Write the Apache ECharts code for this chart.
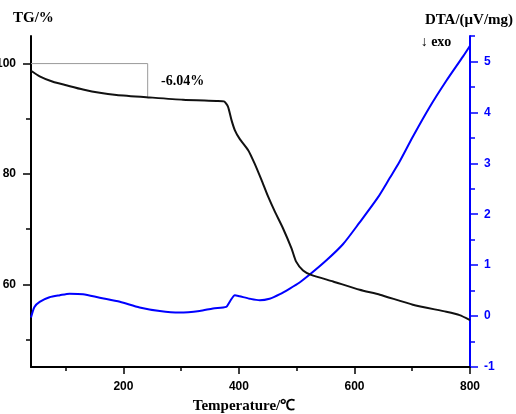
<!DOCTYPE html>
<html>
<head>
<meta charset="utf-8">
<script src="https://cdn.jsdelivr.net/npm/echarts@6/dist/echarts.min.js"></script>
<style>html,body{margin:0;padding:0;background:#fff;}#c{width:516px;height:414px;}</style>
</head>
<body>
<div id="c"></div>
<script>
// ---- data ----
var tgTemp  = [40, 55, 78, 101, 130, 159, 188, 245, 303, 361, 374, 381, 387, 393, 401, 416, 427, 439, 450, 462, 476, 491, 499, 511, 525, 563, 609, 644, 701, 759, 782, 800];
var tgValue = [98.7, 97.7, 96.7, 96.07, 95.3, 94.7, 94.32, 93.87, 93.45, 93.23, 93.15, 92.2, 89.8, 87.9, 86.4, 84.3, 81.9, 78.9, 76.0, 73.2, 70.2, 66.5, 64.1, 62.5, 61.7, 60.5, 59.0, 58.1, 56.3, 55.0, 54.4, 53.5];
var dtaTemp  = [40, 46, 55, 72, 90, 107, 130, 159, 194, 228, 263, 297, 332, 355, 378, 384, 393, 401, 419, 436, 453, 471, 488, 505, 522, 551, 580, 609, 640, 661, 678, 701, 730, 759, 788, 800];
var dtaValue = [-0.03, 0.18, 0.28, 0.37, 0.41, 0.44, 0.43, 0.36, 0.28, 0.17, 0.10, 0.07, 0.10, 0.15, 0.18, 0.28, 0.41, 0.39, 0.34, 0.31, 0.34, 0.43, 0.54, 0.66, 0.81, 1.09, 1.41, 1.84, 2.32, 2.71, 3.03, 3.52, 4.10, 4.62, 5.10, 5.31];
var bracketTemp  = [40, 242, 242];
var bracketValue = [100, 100, 93.9];
var xMajorTicks = [200, 400, 600, 800];
var xMinorTicks = [100, 300, 500, 700];
var tgMajorTicks = [60, 80, 100];
var tgMinorTicks = [50, 70, 90];
var dtaMajorTicks = [-1, 0, 1, 2, 3, 4, 5];
var dtaMinorTicks = [-0.5, 0.5, 1.5, 2.5, 3.5, 4.5, 5.5];
var lossLabel = '-6.04%';

function zip(a, b) { return a.map(function (v, i) { return [v, b[i]]; }); }

var blue = '#0000ff';
var tickFont = { fontFamily: 'Liberation Sans, Arial, sans-serif', fontWeight: 'bold', fontSize: 12 };
var serifBold = 'bold 15px "Liberation Serif", "Times New Roman", serif';

var chart = echarts.init(document.getElementById('c'), null, { renderer: 'canvas' });
chart.setOption({
  animation: false,
  backgroundColor: '#fff',
  grid: { left: 31, right: 46, top: 36, bottom: 47, containLabel: false, outerBoundsMode: 'none' },
  xAxis: [
    { type: 'value', min: 40, max: 800, position: 'bottom',
      axisLine: { show: true, onZero: false, lineStyle: { color: '#000', width: 2 } },
      axisTick: { show: true, inside: false, length: 7, customValues: xMajorTicks, lineStyle: { color: '#000', width: 1.5 } },
      axisLabel: Object.assign({ customValues: xMajorTicks, color: '#000', margin: 14 }, tickFont),
      splitLine: { show: false } },
    { type: 'value', min: 40, max: 800, position: 'bottom',
      axisLine: { show: false, onZero: false },
      axisTick: { show: true, length: 4, customValues: xMinorTicks, lineStyle: { color: '#000', width: 1.5 } },
      axisLabel: { show: false }, splitLine: { show: false } }
  ],
  yAxis: [
    { type: 'value', min: 45, max: 105, position: 'left',
      axisLine: { show: true, onZero: false, lineStyle: { color: '#000', width: 2 } },
      axisTick: { show: true, length: 8, customValues: tgMajorTicks, lineStyle: { color: '#000', width: 1.5 } },
      axisLabel: Object.assign({ customValues: tgMajorTicks, color: '#000', margin: 15 }, tickFont),
      splitLine: { show: false } },
    { type: 'value', min: 45, max: 105, position: 'left',
      axisLine: { show: false, onZero: false },
      axisTick: { show: true, length: 5, customValues: tgMinorTicks, lineStyle: { color: '#000', width: 1.5 } },
      axisLabel: { show: false }, splitLine: { show: false } },
    { type: 'value', min: -1, max: 5.5, position: 'right',
      axisLine: { show: true, onZero: false, lineStyle: { color: blue, width: 2 } },
      axisTick: { show: true, length: 8, customValues: dtaMajorTicks, lineStyle: { color: blue, width: 1.5 } },
      axisLabel: Object.assign({ customValues: dtaMajorTicks, color: blue, margin: 14 }, tickFont),
      splitLine: { show: false } },
    { type: 'value', min: -1, max: 5.5, position: 'right',
      axisLine: { show: false, onZero: false },
      axisTick: { show: true, length: 5, customValues: dtaMinorTicks, lineStyle: { color: blue, width: 1.5 } },
      axisLabel: { show: false }, splitLine: { show: false } }
  ],
  series: [
    { type: 'line', name: 'bracket', xAxisIndex: 0, yAxisIndex: 0, data: zip(bracketTemp, bracketValue),
      showSymbol: false, lineStyle: { color: '#9a9a9a', width: 1 }, z: 1 },
    { type: 'line', name: 'TG', xAxisIndex: 0, yAxisIndex: 0, data: zip(tgTemp, tgValue),
      showSymbol: false, smooth: 0.2, lineStyle: { color: '#111', width: 2 }, z: 3 },
    { type: 'line', name: 'DTA', xAxisIndex: 0, yAxisIndex: 2, data: zip(dtaTemp, dtaValue),
      showSymbol: false, smooth: 0.25, lineStyle: { color: blue, width: 2 }, z: 2 }
  ],
  graphic: [
    { type: 'text', x: 13, y: 18, style: { text: 'TG/%', font: serifBold, fill: '#000', textAlign: 'left', textVerticalAlign: 'middle' } },
    { type: 'text', x: 469, y: 20, style: { text: 'DTA/(\u03bcV/mg)', font: serifBold, fill: '#000', textAlign: 'center', textVerticalAlign: 'middle' } },
    { type: 'text', x: 436, y: 42, style: { text: '\u2193 exo', font: 'bold 14px "Liberation Serif", "Times New Roman", serif', fill: '#000', textAlign: 'center', textVerticalAlign: 'middle' } },
    { type: 'text', x: 161, y: 81, style: { text: lossLabel, font: 'bold 14px "Liberation Serif", "Times New Roman", serif', fill: '#000', textAlign: 'left', textVerticalAlign: 'middle' } },
    { type: 'text', x: 244, y: 406, style: { text: 'Temperature/\u2103', font: serifBold, fill: '#000', textAlign: 'center', textVerticalAlign: 'middle' } }
  ]
});
</script>
</body>
</html>
